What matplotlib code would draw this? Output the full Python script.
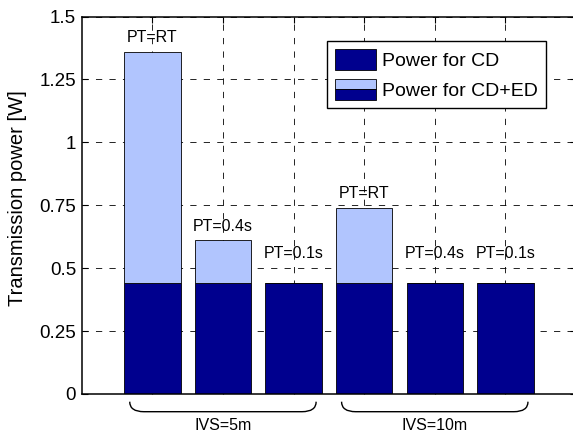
import matplotlib
matplotlib.use('Agg')
from matplotlib import pyplot as plt
from matplotlib.patches import Rectangle, PathPatch
from matplotlib.path import Path
from matplotlib.legend_handler import HandlerBase
from matplotlib.transforms import blended_transform_factory

# values
positions = [1, 2, 3, 4, 5, 6]
power_cd = [0.44, 0.44, 0.44, 0.44, 0.44, 0.44]
power_ed = [0.92, 0.17, 0.0, 0.30, 0.0, 0.0]
bar_labels = ['PT=RT', 'PT=0.4s', 'PT=0.1s', 'PT=RT', 'PT=0.4s', 'PT=0.1s']
group_labels = ['IVS=5m', 'IVS=10m']
group_centers = [2, 5]
yticks = [0, 0.25, 0.5, 0.75, 1, 1.25, 1.5]
ytick_labels = ['0', '0.25', '0.5', '0.75', '1', '1.25', '1.5']

dark = '#00008E'
light = '#B1C5FE'

plt.rcParams['font.family'] = ['Liberation Sans', 'DejaVu Sans']
plt.rcParams['lines.scale_dashes'] = False

W, H = 573, 438
fig = plt.figure(figsize=(W / 100, H / 100), dpi=100)
ax = fig.add_axes([81.7 / W, (H - 394) / H, 494.3 / W, 377.5 / H])

ax.bar(positions, power_cd, width=0.8, color=dark, edgecolor='k', linewidth=0.6, zorder=2)
ax.bar(positions, power_ed, width=0.8, bottom=power_cd, color=light, edgecolor='k',
       linewidth=0.6, zorder=2)

# labels above each bar
for x, cd, ed, lab in zip(positions, power_cd, power_ed, bar_labels):
    top = max(cd + ed, 0.5)
    ax.text(x, top + 0.057, lab, ha='center', va='center', fontsize=11.5)

ax.set_xlim(0, 7)
ax.set_ylim(0, 1.5)
ax.set_xticks(positions)
ax.set_xticklabels([])
ax.set_yticks(yticks)
ax.set_yticklabels(ytick_labels)
ax.tick_params(direction='in', length=4, width=0.8, top=True, right=True,
               labelsize=13.5, pad=4)
ax.set_axisbelow(True)
ax.grid(True, color='k', linewidth=0.6, linestyle=(0, (4.5, 5.2)))
for s in ax.spines.values():
    s.set_linewidth(1.1)

fig.text(18 / W, 1 - 198 / H, 'Transmission power [W]', rotation=90,
         ha='center', va='center', fontsize=14.5)


# legend: second entry shows light over dark like the original
class SplitHandler(HandlerBase):
    def create_artists(self, legend, orig_handle, xdescent, ydescent,
                       width, height, fontsize, trans):
        bot = Rectangle((-xdescent, -ydescent), width, height / 2, fc=dark,
                        ec='k', lw=0.6, transform=trans)
        top = Rectangle((-xdescent, -ydescent + height / 2), width, height / 2,
                        fc=light, ec='k', lw=0.6, transform=trans)
        return [top, bot]


h_cd = Rectangle((0, 0), 1, 1, fc=dark, ec='k', lw=0.6)
h_ed = Rectangle((0, 0), 1, 1, fc=light, ec='k', lw=0.6)
leg = ax.legend([h_cd, h_ed], ['Power for CD', 'Power for CD+ED'],
                handler_map={h_ed: SplitHandler()},
                loc='upper left', bbox_to_anchor=(327 / W, 1 - 41 / H),
                bbox_transform=fig.transFigure, fontsize=14,
                handlelength=2.1, handleheight=1.3, handletextpad=0.35,
                labelspacing=0.45, borderpad=0.4, borderaxespad=0,
                fancybox=False, framealpha=1, edgecolor='k')
leg.get_frame().set_linewidth(1.0)

# braces under each group
tr = blended_transform_factory(ax.transData, fig.transFigure)
ytop = (H - 401.7) / H
ybot = (H - 411.7) / H
r = 0.2
for c, lab in zip(group_centers, group_labels):
    x0, x1 = c - 1.32, c + 1.32
    verts = [(x0, ytop), (x0, ybot), (x0 + r, ybot),
             (x1 - r, ybot),
             (x1, ybot), (x1, ytop)]
    codes = [Path.MOVETO, Path.CURVE3, Path.CURVE3, Path.LINETO,
             Path.CURVE3, Path.CURVE3]
    ax.add_patch(PathPatch(Path(verts, codes), fc='none', ec='k', lw=1.0,
                           transform=tr, clip_on=False))
    ax.text(c, 12 / H, lab, transform=tr, ha='center', va='center', fontsize=11.5)

plt.savefig('out.png', dpi=100)
